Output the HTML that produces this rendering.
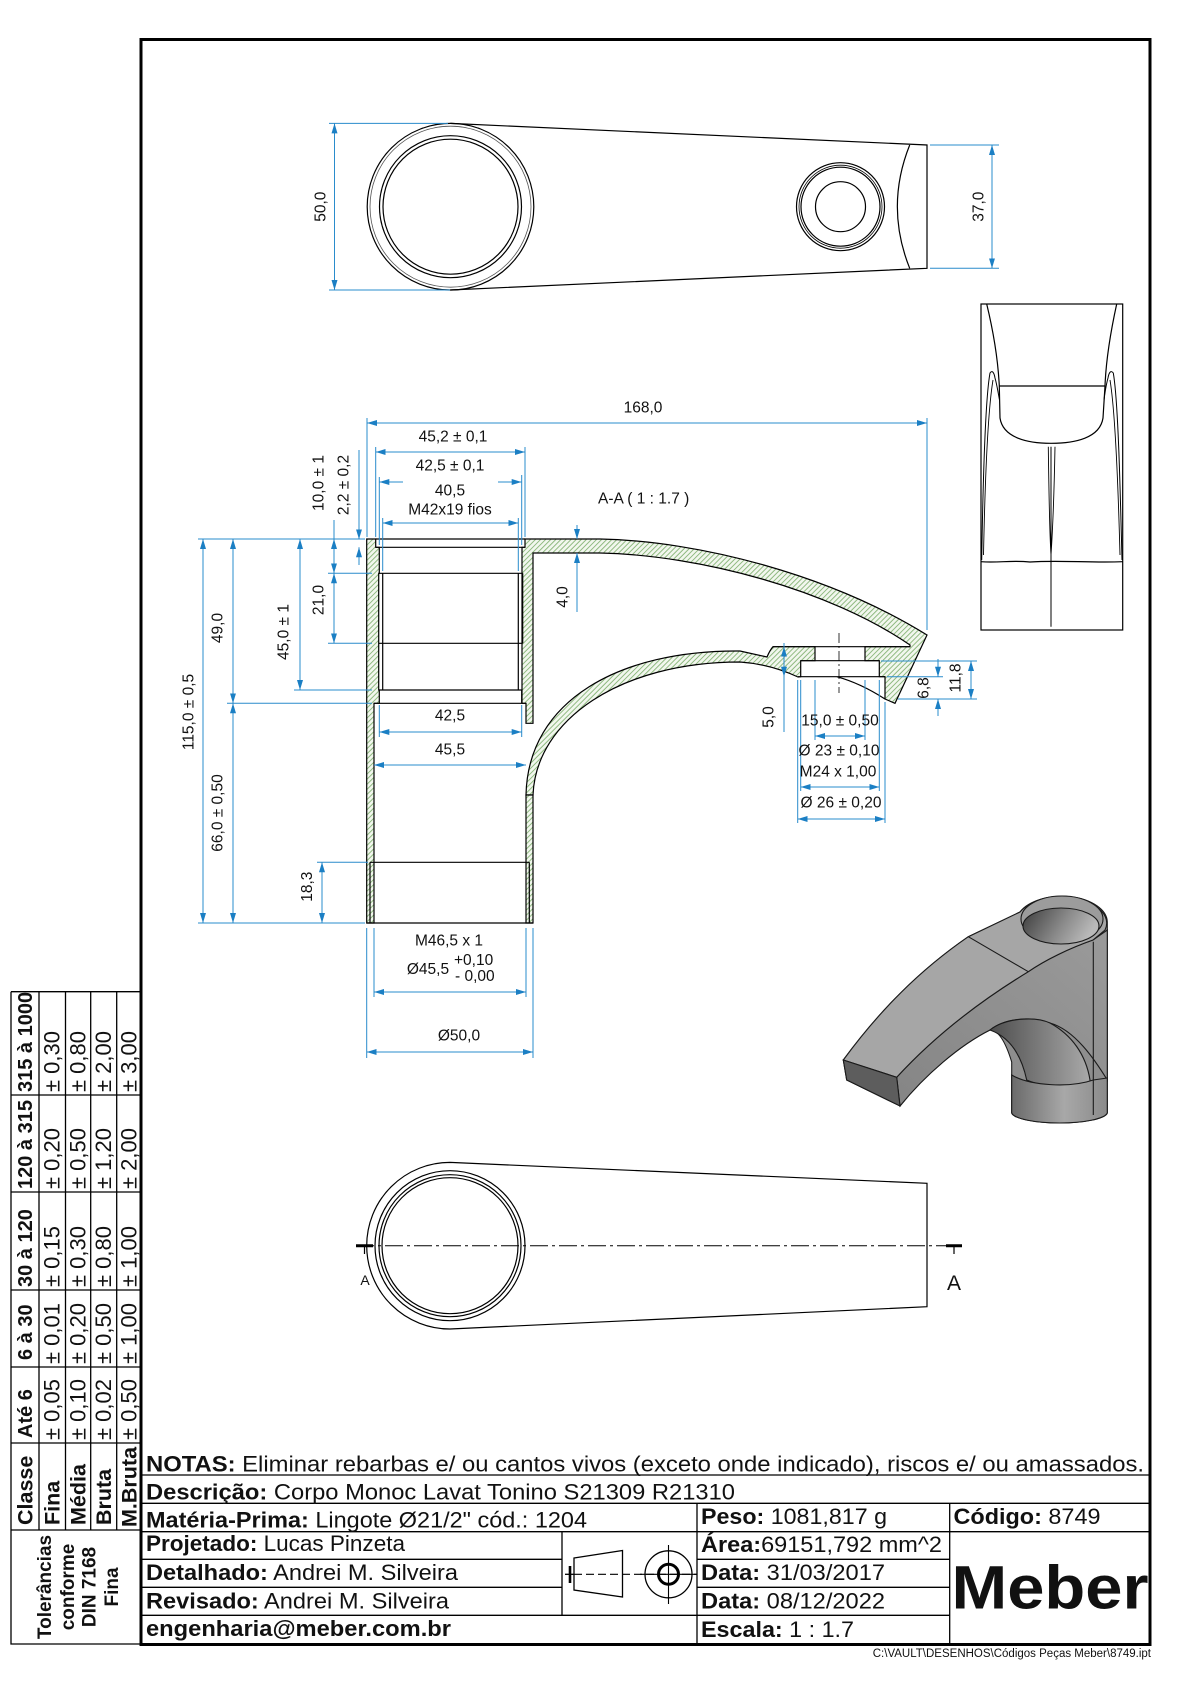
<!DOCTYPE html>
<html><head><meta charset="utf-8"><style>
html,body{margin:0;padding:0;background:#fff}
svg{display:block}
text{font-family:"Liberation Sans",Arial,sans-serif;fill:#111}
.t{font-size:15.5px}
.bl{stroke:#2a8ccc;stroke-width:1;fill:none}
.ab{marker-start:url(#ar);marker-end:url(#ar)}
.ae{marker-end:url(#ar)}
.k{stroke:#000;stroke-width:1.2;fill:none}
.hz{fill:url(#h);stroke:#000;stroke-width:1.2}
.tb{stroke:#000;stroke-width:1.3;fill:none}
.tt{font-size:22.5px}
.b{font-weight:bold}
</style></head><body>
<svg width="1190" height="1684" viewBox="0 0 1190 1684" xmlns="http://www.w3.org/2000/svg">
<defs>
<marker id="ar" viewBox="0 0 10 6" refX="10" refY="3" markerWidth="10" markerHeight="6" markerUnits="userSpaceOnUse" orient="auto-start-reverse"><path d="M0,0 L10,3 L0,6 z" fill="#1b7fc4"/></marker>
<pattern id="h" patternUnits="userSpaceOnUse" width="3.6" height="3.6" patternTransform="rotate(45)"><rect width="3.6" height="3.6" fill="#f2f7ee"/><line x1="0.5" y1="0" x2="0.5" y2="3.6" stroke="#86b476" stroke-width="0.9"/></pattern>
<linearGradient id="gHole" x1="0" y1="0" x2="1" y2="0.3"><stop offset="0" stop-color="#3c3c3c"/><stop offset="0.6" stop-color="#8a8a8a"/><stop offset="1" stop-color="#b9b9b9"/></linearGradient>
<linearGradient id="gArch" x1="0" y1="0" x2="1" y2="0"><stop offset="0" stop-color="#4e4e4e"/><stop offset="1" stop-color="#a9a9a9"/></linearGradient>
<linearGradient id="gCyl" x1="0" y1="0" x2="1" y2="0"><stop offset="0" stop-color="#6a6a6a"/><stop offset="0.55" stop-color="#a8a8a8"/><stop offset="1" stop-color="#8a8a8a"/></linearGradient>
<linearGradient id="gSide" x1="0" y1="1" x2="1" y2="0"><stop offset="0" stop-color="#858585"/><stop offset="1" stop-color="#9a9a9a"/></linearGradient>
</defs>

<!-- main border -->
<rect x="141" y="39.5" width="1009" height="1605" fill="none" stroke="#000" stroke-width="3"/>

<!-- ================= TOP VIEW ================= -->
<g class="k">
<path d="M450.5,123.4 L927,145 L927,268.3 L450.5,290"/>
<circle cx="450.5" cy="206.7" r="83.3"/>
<circle cx="450.5" cy="206.7" r="80.5" stroke="#555" stroke-width="0.8"/>
<circle cx="450.5" cy="206.7" r="71"/>
<circle cx="450.5" cy="206.7" r="67.5"/>
<path d="M909.7,145 Q885,206.7 909.7,268.3"/>
<circle cx="840.5" cy="206.7" r="44"/>
<circle cx="840.5" cy="206.7" r="41.5" stroke-width="0.8"/>
<circle cx="840.5" cy="206.7" r="39.5"/>
<circle cx="840.5" cy="206.7" r="25"/>
</g>
<path class="bl" d="M329,123.4 H448 M329,290 H450 M930,145 H999 M930,268.3 H999"/>
<path class="bl ab" d="M334.5,123.4 V290"/>
<path class="bl ab" d="M992,145 V268.3"/>
<text class="t" text-anchor="middle" transform="translate(320,206.7) rotate(-90)" dy="5.5">50,0</text>
<text class="t" text-anchor="middle" transform="translate(978,206.7) rotate(-90)" dy="5.5">37,0</text>

<!-- ================= RIGHT SIDE VIEW ================= -->
<g class="k">
<rect x="981" y="304" width="141.7" height="326"/>
<path d="M986.7,304 C993,330 998,360 999.3,386 L1000,418 C1003,438 1028,443.3 1051,443.3 C1075,443.3 1100,438 1103,418 L1105,386 C1106,360 1111,330 1116.7,304"/>
<path d="M999.3,386 H1105"/>
<path d="M981,561.7 C1000,563 1010,560 1030,562 C1060,560 1090,563 1122.7,561.7"/>
<path d="M1051,446.7 V626.7" stroke-width="1"/>
<path d="M1048.3,446.7 C1049,500 1050,540 1051,555 M1055,446.7 C1054,500 1052,540 1051,555" stroke-width="0.9"/>
<path d="M981.7,560 C983,480 985,400 990,373 C992,370 994,372 995,378 C997,385 998,392 999.5,400" stroke-width="1"/>
<path d="M983.5,555 C985,480 988,410 993,380" stroke-width="0.9"/>
<path d="M1122,560 C1120,480 1118,400 1113.3,373 C1111,370 1109,372 1108,378 C1106,385 1105,392 1104,400" stroke-width="1"/>
<path d="M1120,555 C1118,480 1115,410 1110,380" stroke-width="0.9"/>
</g>

<!-- ================= SECTION A-A ================= -->
<path class="hz" d="M366.7,539 L375.7,539 L375.7,547.3 L379.3,547.3 L379.3,573.3 L378.7,573.3 L378.7,690 L379.3,690 L379.3,703.3 L374,703.3 L374,923 L366.7,923 Z"/>
<path class="hz" d="M525,539 L600,539 C700,541 830,575 927,635 L895,703.3 L885,699 L885,676.7 L879.3,676.7 L879.3,660.7 L865,660.7 L865,646.7 L910,646.7 L910,645 C830,590 700,555 600,553 L533,553 L533,723.3 L526,723.3 L526,703.3 L522,703.3 L522,547.3 L525,547.3 Z"/>
<path class="hz" d="M773,646.7 L815,646.7 L815,660.7 L800.7,660.7 L800.7,676.7 L798,677 Q770,664 740,662 C620,662 536,720 533,795 L526,795 C528,700 620,650 740,651 L767,657 Q770,650 773,646.7 Z"/>
<path class="hz" d="M526,795 H533 V923 H526 Z"/>
<path class="k" d="M375.7,539 H525 M375.7,547.3 H525 M378.7,573.3 H522.7 M378.7,643.3 H522.7 M522.7,573.3 V643.3
M382.7,573.3 V690 M518.3,573.3 V690 M379.3,690 H521.7 M521.7,690 V703.3 M374,703.3 H526
M370,862.3 H529.3 M370,862.3 V923 M529.3,862.3 V923 M366.7,923 H533
M773,646.7 H910 M800.7,660.7 H879.3 M798,676.7 H885 M836.7,676.7 Q860,683 885,699"/>
<path d="M839,633 V693" stroke="#000" stroke-width="0.8" stroke-dasharray="10 3 2 3"/>

<path class="bl" d="M367,418 V537 M927,418 V630 M375.7,447 V537 M525,447 V537 M379.3,477 V545 M521.7,475 V545 M382.7,518 V571 M518.3,518 V571
M198,539 H365 M328,573.3 H372 M328,643.3 H372 M294,690 H372 M227,703.3 H372 M198,923 H365 M317,862.3 H368
M334,520 V539 M359,450 V527 M359,553 V565 M577,612 V600 M379.3,705 V737 M521.7,705 V737
M374,928 V997 M526,928 V997 M366.7,928 V1058 M533,928 V1058
M784,643 V732 M815,680 V740 M865,680 V740 M800.7,680 V791 M879.3,680 V791 M797.7,680 V823 M885,702 V823
M887,676.7 H943 M881,661 H977 M898,699 H977"/>
<path class="bl ab" d="M367,423 H927"/>
<path class="bl ab" d="M375.7,452 H525"/>
<path class="bl ae" d="M403,482 H379.3"/>
<path class="bl ae" d="M498,482 H521.7"/>
<path class="bl ab" d="M382.7,523 H518.3"/>
<path class="bl ab" d="M203,539 V923"/>
<path class="bl ab" d="M233,539 V703.3"/>
<path class="bl ab" d="M233,703.3 V923"/>
<path class="bl ab" d="M300,539 V690"/>
<path class="bl ae" d="M334,556 V539"/>
<path class="bl ae" d="M334,556 V573.3"/>
<path class="bl ae" d="M334,608 V573.3"/>
<path class="bl ae" d="M334,608 V643.3"/>
<path class="bl ae" d="M359,525 V539.3"/>
<path class="bl ae" d="M359,561 V547.3"/>
<path class="bl ab" d="M322,862.3 V923"/>
<path class="bl ae" d="M577,525 V539"/>
<path class="bl ae" d="M577,600 V553"/>
<path class="bl ab" d="M379.3,732 H521.7"/>
<path class="bl ab" d="M374,765 H526"/>
<path class="bl ab" d="M374,992 H526"/>
<path class="bl ab" d="M366.7,1052 H533"/>
<path class="bl ae" d="M784,661 V646.7"/>
<path class="bl ae" d="M784,661 V676.7"/>
<path class="bl ab" d="M815,736 H865"/>
<path class="bl ab" d="M800.7,787 H879.3"/>
<path class="bl ab" d="M797.7,819 H885"/>
<path class="bl ae" d="M938,659 V676.7"/>
<path class="bl ae" d="M938,716 V699"/>
<path class="bl ab" d="M971,661 V699"/>

<g class="t" text-anchor="middle">
<text x="643" y="412.5">168,0</text>
<text x="453" y="441.5">45,2 ± 0,1</text>
<text x="450" y="470.5">42,5 ± 0,1</text>
<text x="450" y="495.5">40,5</text>
<text x="450" y="514.5">M42x19 fios</text>
<text x="450" y="720.5">42,5</text>
<text x="450" y="754.5">45,5</text>
<text x="449" y="945.5">M46,5 x 1</text>
<text x="428" y="974">Ø45,5</text>
<text x="459" y="1040.5">Ø50,0</text>
<text x="840" y="725.5">15,0 ± 0,50</text>
<text x="839" y="755.5">Ø 23 ± 0,10</text>
<text x="838" y="776.5">M24 x 1,00</text>
<text x="841" y="807.5">Ø 26 ± 0,20</text>
</g>
<text class="t" x="454" y="965">+0,10</text>
<text class="t" x="455" y="981">- 0,00</text>
<text class="t" x="598" y="503.5">A-A ( 1 : 1.7 )</text>
<g class="t" text-anchor="middle">
<text transform="translate(768,717) rotate(-90)" dy="5.5">5,0</text>
<text transform="translate(923,688) rotate(-90)" dy="5.5">6,8</text>
<text transform="translate(955,678) rotate(-90)" dy="5.5">11,8</text>
<text transform="translate(562,597) rotate(-90)" dy="5.5">4,0</text>
<text transform="translate(318,600) rotate(-90)" dy="5.5">21,0</text>
<text transform="translate(318,483) rotate(-90)" dy="5.5">10,0 ± 1</text>
<text transform="translate(343,485) rotate(-90)" dy="5.5">2,2 ± 0,2</text>
<text transform="translate(283,632) rotate(-90)" dy="5.5">45,0 ± 1</text>
<text transform="translate(217,628) rotate(-90)" dy="5.5">49,0</text>
<text transform="translate(217,813) rotate(-90)" dy="5.5">66,0 ± 0,50</text>
<text transform="translate(188,712) rotate(-90)" dy="5.5">115,0 ± 0,5</text>
<text transform="translate(306.7,886.7) rotate(-90)" dy="5.5">18,3</text>
</g>

<!-- ================= ISO VIEW ================= -->
<g stroke="#1a1a1a" stroke-width="1.1">
<path fill="#8e8e8e" d="M843.3,1060 C880,1010 920,970 968.3,936.7 L1020,912 A45.5,26 0 0 1 1107.3,922 L1107.3,1113 A48,11 0 0 1 1011.7,1113 L1011.7,1062 C1005,1040 998,1030 990,1030 C960,1045 925,1075 900,1106 L846.7,1080 Z"/>
<path fill="url(#gSide)" d="M896.7,1077.3 C940,1030 990,995 1028.3,971.7 C1045,960 1070,948 1093,940 L1107.3,930 L1107.3,1080 C1095,1060 1075,1030 1050,1023 C1030,1016 1005,1018 990,1030 C960,1045 925,1075 900,1106 Z"/>
<path fill="#a6a6a6" d="M843.3,1060 C880,1010 920,970 968.3,936.7 L1020,912 A45.5,26 0 0 1 1105,930 L1093,940 C1070,948 1045,960 1028.3,971.7 C990,995 940,1030 896.7,1077.3 Z"/>
<path fill="#5d5d5d" d="M843.3,1060 L896.7,1077.3 L900,1106 L846.7,1080 Z"/>
<path fill="url(#gArch)" d="M990,1030 C1005,1018 1035,1016 1050,1023 C1072,1035 1086,1055 1090,1080 L1090,1082 C1065,1088 1040,1086 1026.7,1080 C1022,1058 1012,1038 990,1030 Z"/>
<path fill="url(#gCyl)" d="M1011.7,1075 C1030,1086 1070,1088 1093.3,1080 L1107.3,1078 L1107.3,1113 A48,11 0 0 1 1011.7,1113 Z"/>
<ellipse cx="1062" cy="919" rx="41" ry="23" fill="#9c9c9c"/>
<ellipse cx="1061" cy="926" rx="38" ry="18" fill="url(#gHole)"/>
<path fill="none" d="M968.3,936.7 L1028.3,971.7 M1093.3,941.7 V1115"/>
</g>

<!-- ================= BOTTOM VIEW ================= -->
<g class="k">
<path d="M450,1162.4 L927,1183.3 L927,1306.7 L450,1329 A83.3,83.3 0 0 1 450,1162.4"/>
<circle cx="450" cy="1245.7" r="75"/>
<circle cx="450" cy="1245.7" r="71"/>
<circle cx="450" cy="1245.7" r="68"/>
</g>
<path d="M356,1245.7 H962" stroke="#000" stroke-width="1" stroke-dasharray="18 4 3 4"/>
<path d="M356,1245.7 H373 M946,1245.7 H962" stroke="#000" stroke-width="3"/>
<path d="M364.5,1245.7 V1254 M954,1245.7 V1254" stroke="#000" stroke-width="1.2"/>
<text x="365" y="1285" font-size="14" text-anchor="middle">A</text>
<text x="954" y="1290" font-size="21" text-anchor="middle">A</text>

<!-- ================= TITLE BLOCK ================= -->
<path class="tb" d="M141,1475 H1150 M141,1503.3 H1150 M141,1531.7 H1150 M141,1559.3 H562 M697,1559.3 H949.7 M141,1587.3 H562 M697,1587.3 H949.7 M141,1615.3 H949.7 M562,1531.7 V1615.3 M697,1503.3 V1644 M949.7,1503.3 V1644"/>
<text class="tt" x="146" y="1471.5" textLength="998" lengthAdjust="spacingAndGlyphs"><tspan class="b">NOTAS:</tspan> Eliminar rebarbas e/ ou cantos vivos (exceto onde indicado), riscos e/ ou amassados.</text>
<text class="tt" x="146" y="1499.5" textLength="589" lengthAdjust="spacingAndGlyphs"><tspan class="b">Descrição:</tspan> Corpo Monoc Lavat Tonino S21309 R21310</text>
<text class="tt" x="146" y="1527.5" textLength="441" lengthAdjust="spacingAndGlyphs"><tspan class="b">Matéria-Prima:</tspan> Lingote Ø21/2" cód.: 1204</text>
<text class="tt" x="146" y="1551" textLength="259" lengthAdjust="spacingAndGlyphs"><tspan class="b">Projetado:</tspan> Lucas Pinzeta</text>
<text class="tt" x="146" y="1580" textLength="312" lengthAdjust="spacingAndGlyphs"><tspan class="b">Detalhado:</tspan> Andrei M. Silveira</text>
<text class="tt" x="146" y="1608.5" textLength="303" lengthAdjust="spacingAndGlyphs"><tspan class="b">Revisado:</tspan> Andrei M. Silveira</text>
<text class="tt b" x="146" y="1636" textLength="305" lengthAdjust="spacingAndGlyphs">engenharia@meber.com.br</text>
<text class="tt" x="701" y="1524" textLength="186" lengthAdjust="spacingAndGlyphs"><tspan class="b">Peso:</tspan> 1081,817 g</text>
<text class="tt" x="701" y="1552" textLength="241" lengthAdjust="spacingAndGlyphs"><tspan class="b">Área:</tspan>69151,792 mm^2</text>
<text class="tt" x="701" y="1580" textLength="184" lengthAdjust="spacingAndGlyphs"><tspan class="b">Data:</tspan> 31/03/2017</text>
<text class="tt" x="701" y="1608.5" textLength="184" lengthAdjust="spacingAndGlyphs"><tspan class="b">Data:</tspan> 08/12/2022</text>
<text class="tt" x="701" y="1637" textLength="153" lengthAdjust="spacingAndGlyphs"><tspan class="b">Escala:</tspan> 1 : 1.7</text>
<text class="tt" x="953.5" y="1524" textLength="147" lengthAdjust="spacingAndGlyphs"><tspan class="b">Código:</tspan> 8749</text>
<text x="951.5" y="1608.5" font-size="61" font-weight="bold" textLength="197" lengthAdjust="spacingAndGlyphs">Meber</text>
<text x="1151" y="1657" font-size="11.5" text-anchor="end">C:\VAULT\DESENHOS\Códigos Peças Meber\8749.ipt</text>

<g stroke="#000" fill="none">
<path d="M574,1558 L622.5,1550.5 L622.5,1597 L574,1590 Z" stroke-width="1.3"/>
<path d="M570,1566 V1583" stroke-width="2.6"/>
<path d="M565,1574.3 H574" stroke-width="1.3"/>
<path d="M574,1574.3 H697" stroke-width="1.1" stroke-dasharray="8 4"/>
<circle cx="668.5" cy="1574.3" r="23.5" stroke-width="1.3"/>
<circle cx="668.5" cy="1574.3" r="10" stroke-width="3"/>
<path d="M668.5,1545 V1604 M640,1574.3 H697" stroke-width="1.1"/>
</g>

<!-- ================= TOLERANCE TABLE ================= -->
<path class="tb" d="M11,991.7 H141 M11,991.7 V1644 H141 M39,991.7 V1530 M65.5,991.7 V1530 M90.7,991.7 V1530 M116.7,991.7 V1530
M11,1095 H141 M11,1192 H141 M11,1290 H141 M11,1367 H141 M11,1443 H141 M11,1530 H141"/>
<g text-anchor="start">
<text class="b" font-size="20" transform="translate(25,1092) rotate(-90)" dy="7">315 à 1000</text>
<text font-size="22" transform="translate(52.2,1092) rotate(-90)" dy="7.5">± 0,30</text>
<text font-size="22" transform="translate(78.1,1092) rotate(-90)" dy="7.5">± 0,80</text>
<text font-size="22" transform="translate(103.7,1092) rotate(-90)" dy="7.5">± 2,00</text>
<text font-size="22" transform="translate(128.8,1092) rotate(-90)" dy="7.5">± 3,00</text>
<text class="b" font-size="20" transform="translate(25,1189) rotate(-90)" dy="7">120 à 315</text>
<text font-size="22" transform="translate(52.2,1189) rotate(-90)" dy="7.5">± 0,20</text>
<text font-size="22" transform="translate(78.1,1189) rotate(-90)" dy="7.5">± 0,50</text>
<text font-size="22" transform="translate(103.7,1189) rotate(-90)" dy="7.5">± 1,20</text>
<text font-size="22" transform="translate(128.8,1189) rotate(-90)" dy="7.5">± 2,00</text>
<text class="b" font-size="20" transform="translate(25,1287) rotate(-90)" dy="7">30 à 120</text>
<text font-size="22" transform="translate(52.2,1287) rotate(-90)" dy="7.5">± 0,15</text>
<text font-size="22" transform="translate(78.1,1287) rotate(-90)" dy="7.5">± 0,30</text>
<text font-size="22" transform="translate(103.7,1287) rotate(-90)" dy="7.5">± 0,80</text>
<text font-size="22" transform="translate(128.8,1287) rotate(-90)" dy="7.5">± 1,00</text>
<text class="b" font-size="20" transform="translate(25,1360) rotate(-90)" dy="7">6 à 30</text>
<text font-size="22" transform="translate(52.2,1364) rotate(-90)" dy="7.5">± 0,01</text>
<text font-size="22" transform="translate(78.1,1364) rotate(-90)" dy="7.5">± 0,20</text>
<text font-size="22" transform="translate(103.7,1364) rotate(-90)" dy="7.5">± 0,50</text>
<text font-size="22" transform="translate(128.8,1364) rotate(-90)" dy="7.5">± 1,00</text>
<text class="b" font-size="20" transform="translate(25,1438) rotate(-90)" dy="7">Até 6</text>
<text font-size="22" transform="translate(52.2,1440) rotate(-90)" dy="7.5">± 0,05</text>
<text font-size="22" transform="translate(78.1,1440) rotate(-90)" dy="7.5">± 0,10</text>
<text font-size="22" transform="translate(103.7,1440) rotate(-90)" dy="7.5">± 0,02</text>
<text font-size="22" transform="translate(128.8,1440) rotate(-90)" dy="7.5">± 0,50</text>
<text class="b" font-size="21.5" transform="translate(25,1525) rotate(-90)" dy="7.5">Classe</text>
<text class="b" font-size="21.5" transform="translate(52.2,1525) rotate(-90)" dy="7.5">Fina</text>
<text class="b" font-size="21.5" transform="translate(78.1,1525) rotate(-90)" dy="7.5">Média</text>
<text class="b" font-size="21.5" transform="translate(103.7,1525) rotate(-90)" dy="7.5">Bruta</text>
<text class="b" font-size="21.5" transform="translate(128.8,1527) rotate(-90)" dy="7.5">M.Bruta</text>
</g>
<g text-anchor="middle" font-weight="bold" font-size="19">
<text transform="translate(44,1587) rotate(-90)" dy="7">Tolerâncias</text>
<text transform="translate(67,1587) rotate(-90)" dy="7">conforme</text>
<text transform="translate(88.5,1587) rotate(-90)" dy="7">DIN 7168</text>
<text transform="translate(111,1587) rotate(-90)" dy="7">Fina</text>
</g>
</svg>
</body></html>
